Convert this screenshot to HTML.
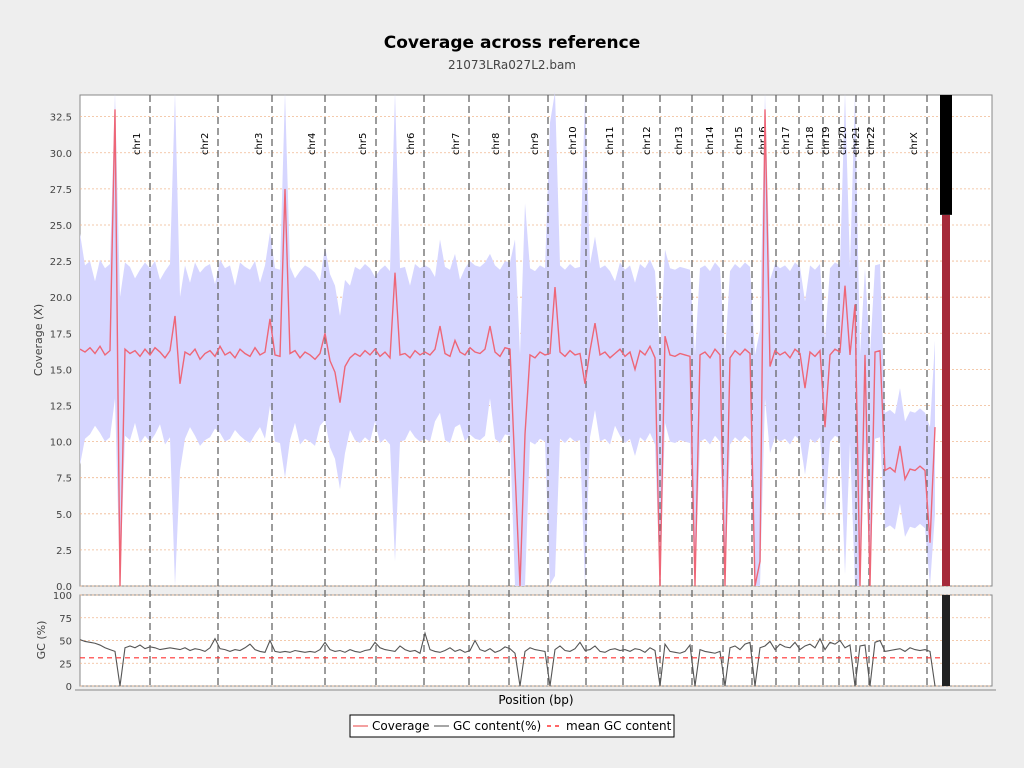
<!DOCTYPE html>
<html><head><meta charset="utf-8"><style>
body{margin:0;background:#eeeeee;font-family:"Liberation Sans","DejaVu Sans",sans-serif;}
svg{display:block}
</style></head><body>
<svg id="chart" width="1024" height="768" font-family="DejaVu Sans, Liberation Sans, sans-serif">
<rect x="0" y="0" width="1024" height="768" fill="#eeeeee"/>
<text x="512" y="48" text-anchor="middle" font-size="17" font-weight="bold" fill="#000">Coverage across reference</text>
<text x="512" y="69" text-anchor="middle" font-size="12" fill="#444">21073LRa027L2.bam</text>
<rect x="80" y="95" width="912" height="491" fill="#fff" stroke="#888"/>
<rect x="80" y="595" width="912" height="91" fill="#fff" stroke="#888"/>
<g id="grid"></g><g id="band"></g><g id="chrlines"></g><g id="series"></g><g id="axes"></g>
<line x1="75" y1="690" x2="996" y2="690" stroke="#888"/>
<text x="536" y="704" text-anchor="middle" font-size="12" fill="#000">Position (bp)</text>
<text transform="translate(42,340) rotate(-90)" text-anchor="middle" font-size="11" fill="#444">Coverage (X)</text>
<text transform="translate(45,640) rotate(-90)" text-anchor="middle" font-size="11" fill="#444">GC (%)</text>
<g>
<rect x="350" y="715" width="324" height="22" fill="#fff" stroke="#000"/>
<line x1="353" y1="726" x2="368" y2="726" stroke="#f08080" stroke-width="1.5"/>
<text x="372" y="730" font-size="12">Coverage</text>
<line x1="434" y1="726" x2="449" y2="726" stroke="#888" stroke-width="1.5"/>
<text x="453" y="730" font-size="12">GC content(%)</text>
<line x1="547" y1="726" x2="562" y2="726" stroke="#f33" stroke-width="1.5" stroke-dasharray="4,4"/>
<text x="566" y="730" font-size="12">mean GC content</text>
</g>
</svg>
<script>
const coverage=[16.4,16.2,16.5,16.1,16.6,16.0,16.3,33,0,16.4,
16.1,16.3,15.9,16.4,16.0,16.5,16.2,15.8,16.3,18.7,
14.0,16.2,16.0,16.4,15.7,16.1,16.3,15.9,16.6,16.0,
16.2,15.8,16.4,16.1,15.9,16.5,16.0,16.2,18.5,16.0,
15.9,27.5,16.1,16.3,15.8,16.2,16.0,15.7,16.1,17.5,
15.6,14.8,12.7,15.2,15.8,16.1,15.9,16.3,16.0,16.4,
15.9,16.2,15.8,21.7,16.0,16.1,15.8,16.3,16.0,16.2,
16.0,16.4,18.0,16.1,15.9,17.0,16.2,16.0,16.5,16.2,
16.1,16.4,18.0,16.2,15.9,16.5,16.4,8.0,0,10.5,
16.0,15.8,16.2,16.0,16.1,20.7,16.2,15.9,16.3,16.0,
16.1,14.0,16.3,18.2,16.0,16.2,15.8,16.1,16.4,15.9,
16.2,15.0,16.3,16.0,16.6,15.8,0,17.3,16.0,15.9,
16.1,16.0,15.9,0,16.0,16.2,15.8,16.4,16.0,0,
15.8,16.3,16.0,16.4,16.1,0,1.7,33,15.2,16.3,
16.0,16.2,15.8,16.4,16.1,13.7,16.2,15.9,16.3,11.0,
16.0,16.4,16.2,20.8,16.0,19.5,0,16.0,0,16.2,
16.3,8.0,8.2,7.9,9.7,7.4,8.1,8.0,8.3,8.0,
3.0,11.0];
const spread=[8,6,6,5,6,6,6,20,20,6,
6,5,6,6,6,6,5,6,6,20,
6,6,5,6,6,6,6,5,6,6,
6,5,6,6,6,6,5,6,6,6,
6,20,6,5,6,6,6,6,5,6,
6,6,6,6,5,6,6,6,6,5,
6,6,6,20,6,6,5,6,6,6,
6,5,6,6,6,6,5,6,6,6,
6,6,5,6,6,6,6,16,16,16,
6,6,6,6,16,20,6,6,6,6,
6,20,6,6,6,6,6,5,6,6,
6,6,6,6,6,6,16,6,6,6,
6,6,6,16,6,6,6,6,6,16,
6,6,6,6,6,16,16,20,6,6,
6,6,6,6,6,6,6,6,6,6,
6,6,6,20,6,20,16,6,16,6,
6,4,4,4,4,4,4,4,4,4,
8,6];
const gc=[51,49,48,47,45,42,40,38,0,42,
44,42,45,41,43,42,40,41,42,41,
40,42,39,41,40,38,42,52,41,40,
38,40,39,42,46,40,38,37,50,38,
37,38,37,39,38,37,38,37,40,48,
40,38,39,37,40,38,37,39,40,48,
42,40,39,38,44,40,38,39,36,58,
40,38,37,39,42,38,40,37,39,50,
40,38,41,37,39,43,41,36,0,38,
42,40,39,38,0,40,44,39,38,41,
48,39,40,44,38,37,40,41,39,40,
38,41,40,37,42,39,0,46,38,37,
36,38,45,0,40,38,37,36,38,0,
42,44,40,46,48,0,42,44,49,40,
46,43,42,48,40,44,46,42,52,40,
48,46,50,42,45,0,44,45,0,48,
50,38,39,40,41,38,42,40,39,40,
38,0];
const meanGC=31;
const chrNames=["chr1","chr2","chr3","chr4","chr5","chr6","chr7","chr8","chr9","chr10","chr11","chr12","chr13","chr14","chr15","chr16","chr17","chr18","chr19","chr20","chr21","chr22","chrX"];
const chrEnds=[14,27.6,38.4,49,59.2,68.8,77.8,85.8,93.6,101.2,108.6,116,122.4,128.6,134.4,139.2,143.8,148.6,151.8,155.2,157.8,160.8,169.4];
const covTicks=[0,2.5,5,7.5,10,12.5,15,17.5,20,22.5,25,27.5,30,32.5];
const gcTicks=[0,25,50,75,100];
const chrYCov=25.7;

const NS="http://www.w3.org/2000/svg";
const xS=i=>80+5*i;
const yC=v=>586-Math.min(v,34.2)*(491/34.0);
const yG=v=>686-v*0.91;
function mk(t,a,p){const e=document.createElementNS(NS,t);for(const k in a)e.setAttribute(k,a[k]);p.appendChild(e);return e;}
const grid=document.getElementById('grid'),band=document.getElementById('band'),chr=document.getElementById('chrlines'),ser=document.getElementById('series'),ax=document.getElementById('axes');

covTicks.forEach(t=>{
 const y=yC(t);
 const g=mk('line',{x1:80,x2:992,y1:y,y2:y,stroke:'#f0b890','stroke-dasharray':'2,2','stroke-width':0.8},grid);
 
 
 const tx=mk('text',{x:72,y:y+4,'text-anchor':'end','font-size':10,fill:'#444'},ax);
 tx.textContent=t.toFixed(1);
 
 
});
gcTicks.forEach(t=>{
 const y=yG(t);
 const g=mk('line',{x1:80,x2:992,y1:y,y2:y,stroke:'#f0b890','stroke-dasharray':'2,2','stroke-width':0.8},grid);
 
 
 const tx=mk('text',{x:72,y:y+4,'text-anchor':'end','font-size':10,fill:'#444'},ax);
 tx.textContent=t;
 
 
});

// std band
let up='',lo='';
coverage.forEach((v,i)=>{up+=(i?'L':'M')+xS(i)+','+yC(v+spread[i]);});
for(let i=coverage.length-1;i>=0;i--){up+='L'+xS(i)+','+yC(Math.max(0,coverage[i]-spread[i]));}
const b=mk('path',{d:up+'Z',fill:'#d6d6ff',stroke:'none'},band);



// chromosome lines and labels
chrEnds.forEach((e,i)=>{
 const x=xS(e);
 const l=mk('line',{x1:x,x2:x,y1:95,y2:686,stroke:'#666','stroke-dasharray':'7,4','stroke-width':1.3},chr);
 
 
 const t=mk('text',{transform:`translate(${x-10},155) rotate(-90)`,'font-size':10,fill:'#000'},chr);
 t.textContent=chrNames[i];
 
 
});

// coverage line
let d='';coverage.forEach((v,i)=>{d+=(i?'L':'M')+xS(i)+','+yC(v);});
const cl=mk('path',{d,fill:'none',stroke:'#ee6677','stroke-width':1.4},ser);



// gc line
let g2='';gc.forEach((v,i)=>{g2+=(i?'L':'M')+xS(i)+','+yG(v);});
const gl=mk('path',{d:g2,fill:'none',stroke:'#555','stroke-width':1.1},ser);



const ml=mk('line',{x1:80,x2:940,y1:yG(meanGC),y2:yG(meanGC),stroke:'#f33','stroke-dasharray':'5,4','stroke-width':1.2},ser);



// chrY block
const yb=mk('rect',{x:942,y:yC(chrYCov),width:8,height:586-yC(chrYCov),fill:'#a52a3a'},ser);


const yl=mk('rect',{x:940,y:95,width:12,height:yC(chrYCov)-95,fill:'#000'},ser);


const yg=mk('rect',{x:942,y:595,width:8,height:91,fill:'#222'},ser);


</script>
</body></html>
